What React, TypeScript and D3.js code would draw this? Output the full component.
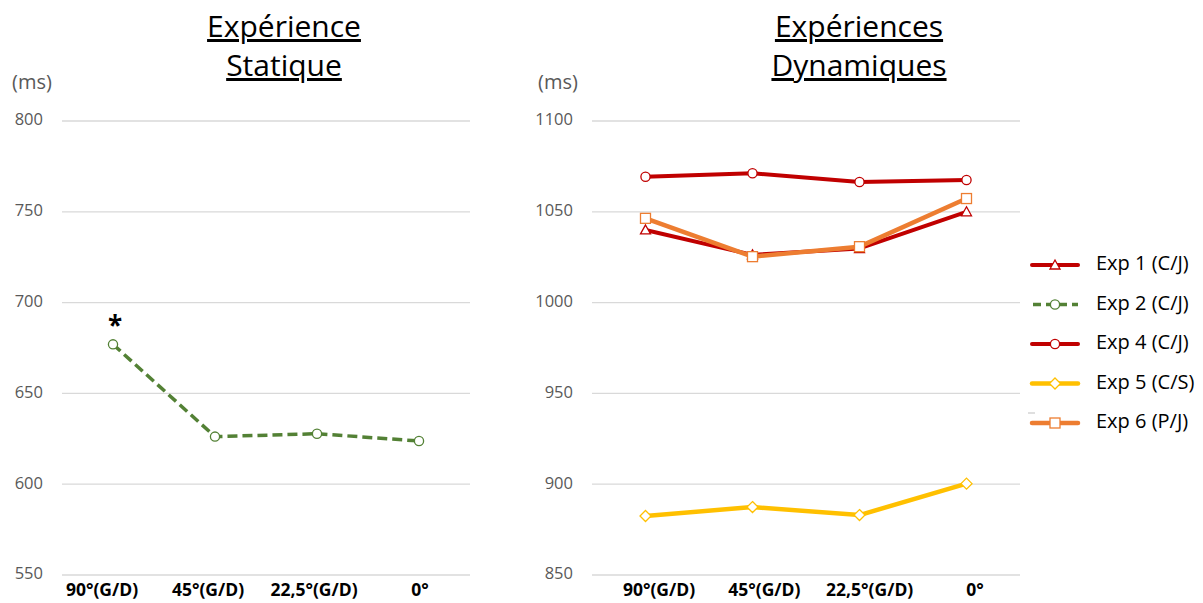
import React from "react";
import * as d3 from "d3";

const categories = ["90°(G/D)", "45°(G/D)", "22,5°(G/D)", "0°"];
const staticTicks = [550, 600, 650, 700, 750, 800];
const dynamicTicks = [850, 900, 950, 1000, 1050, 1100];

const exp2 = [677, 626.2, 627.8, 623.8];
const exp1 = [1040, 1026.3, 1029.8, 1050];
const exp4 = [1069.3, 1071.2, 1066.4, 1067.5];
const exp5 = [882.5, 887.4, 883.0, 900.3];
const exp6 = [1046.4, 1025.3, 1030.8, 1057.3];

const legendNames = ["Exp 1 (C/J)", "Exp 2 (C/J)", "Exp 4 (C/J)", "Exp 5 (C/S)", "Exp 6 (P/J)"];

const RED = "#C00000";
const GREEN = "#538135";
const YELLOW = "#FFC000";
const ORANGE = "#ED7D31";
const FONT = "'Open Sans', sans-serif";

type Marker = "triangle" | "circle" | "diamond" | "square";

function MarkerShape({ type, x, y, color }: { type: Marker; x: number; y: number; color: string }) {
  const sw = 1.3;
  if (type === "circle") return <circle cx={x} cy={y} r={4.6} fill="#fff" stroke={color} strokeWidth={sw} />;
  if (type === "square") return <rect x={x - 5} y={y - 5} width={10} height={10} fill="#fff" stroke={color} strokeWidth={sw} />;
  if (type === "diamond")
    return <path d={`M${x},${y - 5.5}L${x + 5.5},${y}L${x},${y + 5.5}L${x - 5.5},${y}Z`} fill="#fff" stroke={color} strokeWidth={sw} />;
  return <path d={`M${x},${y - 5}L${x + 5},${y + 4}L${x - 5},${y + 4}Z`} fill="#fff" stroke={color} strokeWidth={sw} />;
}

type Series = { values: number[]; color: string; marker: Marker; width: number; dash?: string };

function Panel({
  x0, x1, yDomain, ticks, series, labelRange, tickRight, msX, titleLines, titleX,
}: {
  x0: number; x1: number; yDomain: [number, number]; ticks: number[]; series: Series[];
  labelRange: [number, number]; tickRight: number; msX: number; titleLines: string[]; titleX: number;
}) {
  const y = d3.scaleLinear().domain(yDomain).range([575, 121]);
  const xb = d3.scaleBand<string>().domain(categories).range([x0, x1]).padding(0);
  const cx = (c: string) => (xb(c) as number) + xb.bandwidth() / 2;
  const xl = d3.scalePoint<string>().domain(categories).range(labelRange);
  const line = d3.line<number>().x((_, i) => cx(categories[i])).y((v) => y(v));
  return (
    <g>
      {titleLines.map((t, i) => (
        <text key={t} x={titleX} y={37 + i * 39} textAnchor="middle" fontFamily={FONT} fontSize={30}
          fill="#000" textDecoration="underline">{t}</text>
      ))}
      <text x={msX} y={84} dominantBaseline="middle" fontFamily={FONT} fontSize={20} fill="#595959">(ms)</text>
      {ticks.map((t) => (
        <g key={t}>
          <line x1={x0} x2={x1} y1={y(t)} y2={y(t)} stroke="#D9D9D9" strokeWidth={1.3} />
          <text x={tickRight} y={y(t)} dominantBaseline="middle" textAnchor="end" fontFamily={FONT}
            fontSize={16.5} fill="#595959">{t}</text>
        </g>
      ))}
      {categories.map((c) => (
        <text key={c} x={xl(c)} y={596} textAnchor="middle" fontFamily={FONT} fontSize={17.5}
          fontWeight="bold" fill="#000">{c}</text>
      ))}
      {series.map((s, si) => (
        <g key={si}>
          <path d={line(s.values) || ""} fill="none" stroke={s.color} strokeWidth={s.width}
            strokeDasharray={s.dash} strokeLinejoin="round" />
          {s.values.map((v, i) => (
            <MarkerShape key={i} type={s.marker} x={cx(categories[i])} y={y(v)} color={s.color} />
          ))}
        </g>
      ))}
    </g>
  );
}

export default function App() {
  const staticSeries: Series[] = [{ values: exp2, color: GREEN, marker: "circle", width: 3.5, dash: "10,5" }];
  const dynSeries: Series[] = [
    { values: exp1, color: RED, marker: "triangle", width: 4 },
    { values: exp4, color: RED, marker: "circle", width: 4 },
    { values: exp5, color: YELLOW, marker: "diamond", width: 4.5 },
    { values: exp6, color: ORANGE, marker: "square", width: 4.5 },
  ];
  const legendStyles: Series[] = [
    { values: [], color: RED, marker: "triangle", width: 4 },
    { values: [], color: GREEN, marker: "circle", width: 3.5, dash: "10,5" },
    { values: [], color: RED, marker: "circle", width: 4 },
    { values: [], color: YELLOW, marker: "diamond", width: 4.5 },
    { values: [], color: ORANGE, marker: "square", width: 4.5 },
  ];
  const ly = d3.scalePoint<string>().domain(legendNames).range([265, 423]);
  const y0 = d3.scaleLinear().domain([550, 800]).range([575, 121]);
  return (
    <svg width={1203} height={603} style={{ position: "absolute", left: 0, top: 0 }}>
      <rect width={1203} height={603} fill="#fff" />
      <Panel x0={62} x1={470} yDomain={[550, 800]} ticks={staticTicks} series={staticSeries}
        labelRange={[102, 420]} tickRight={43} msX={12} titleLines={["Expérience", "Statique"]} titleX={284} />
      <Panel x0={592} x1={1020} yDomain={[850, 1100]} ticks={dynamicTicks} series={dynSeries}
        labelRange={[659, 975]} tickRight={573} msX={538} titleLines={["Expériences", "Dynamiques"]} titleX={859} />
      <text x={115} y={y0(exp2[0]) + 1} textAnchor="middle" fontFamily={FONT} fontSize={26} fontWeight="bold" fill="#000"
        dy={-10}>*</text>
      {legendNames.map((n, i) => {
        const s = legendStyles[i];
        const yy = ly(n) as number;
        return (
          <g key={n}>
            <line x1={1032} x2={1078} y1={yy} y2={yy} stroke={s.color} strokeWidth={s.width}
              strokeDasharray={s.dash ? "8,5" : undefined} strokeDashoffset={s.dash ? -1 : undefined} strokeLinecap={s.dash ? "butt" : "round"} />
            <MarkerShape type={s.marker} x={1055} y={yy} color={s.color} />
            <text x={1096} y={yy} dominantBaseline="middle" fontFamily={FONT} fontSize={20} fill="#000">{n}</text>
          </g>
        );
      })}
      <line x1={1028} x2={1035} y1={413} y2={413} stroke="#BFBFBF" strokeWidth={1} />
    </svg>
  );
}
